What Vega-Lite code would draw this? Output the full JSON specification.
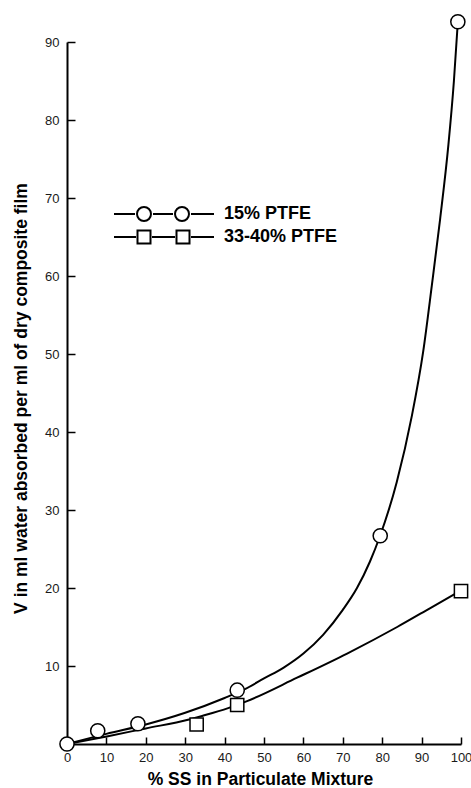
{
  "$schema": "https://vega.github.io/schema/vega-lite/v6.json",
  "width": 394,
  "height": 702,
  "autosize": {"type": "none"},
  "padding": {"left": 67, "top": 42, "right": 10, "bottom": 44},
  "background": "white",
  "config": {
    "view": {"stroke": null},
    "font": "Liberation Sans",
    "axis": {
      "grid": false,
      "domainColor": "black",
      "domainWidth": 2,
      "tickColor": "black",
      "tickWidth": 1.5,
      "labelColor": "#1a1a1a",
      "labelFont": "Liberation Sans",
      "labelFontSize": 13,
      "labelOverlap": false,
      "labelFlush": false,
      "titleFont": "Liberation Sans",
      "titleFontWeight": "bold",
      "titleFontSize": 17.5,
      "titleColor": "black"
    }
  },
  "datasets": {
    "curves": [
      {"series": "15% PTFE", "x": 0, "y": 0},
      {"series": "15% PTFE", "x": 10, "y": 1.3},
      {"series": "15% PTFE", "x": 20, "y": 2.5},
      {"series": "15% PTFE", "x": 30, "y": 4.0},
      {"series": "15% PTFE", "x": 40, "y": 5.9},
      {"series": "15% PTFE", "x": 45, "y": 7.0},
      {"series": "15% PTFE", "x": 50, "y": 8.4},
      {"series": "15% PTFE", "x": 55, "y": 9.8},
      {"series": "15% PTFE", "x": 60, "y": 11.6},
      {"series": "15% PTFE", "x": 65, "y": 14.0},
      {"series": "15% PTFE", "x": 70, "y": 17.2},
      {"series": "15% PTFE", "x": 73.6, "y": 20.0},
      {"series": "15% PTFE", "x": 76.9, "y": 23.4},
      {"series": "15% PTFE", "x": 79.4, "y": 26.6},
      {"series": "15% PTFE", "x": 83.7, "y": 33.6},
      {"series": "15% PTFE", "x": 87.5, "y": 42.0},
      {"series": "15% PTFE", "x": 90.4, "y": 50.3},
      {"series": "15% PTFE", "x": 92.6, "y": 58.8},
      {"series": "15% PTFE", "x": 94.7, "y": 67.3},
      {"series": "15% PTFE", "x": 96.8, "y": 76.8},
      {"series": "15% PTFE", "x": 98.2, "y": 85.0},
      {"series": "15% PTFE", "x": 99.2, "y": 92.6},
      {"series": "33-40% PTFE", "x": 0, "y": 0},
      {"series": "33-40% PTFE", "x": 10.4, "y": 1.0},
      {"series": "33-40% PTFE", "x": 20, "y": 2.0},
      {"series": "33-40% PTFE", "x": 30.7, "y": 3.1},
      {"series": "33-40% PTFE", "x": 34.3, "y": 3.6},
      {"series": "33-40% PTFE", "x": 40.9, "y": 4.6},
      {"series": "33-40% PTFE", "x": 45.7, "y": 5.5},
      {"series": "33-40% PTFE", "x": 58.4, "y": 8.5},
      {"series": "33-40% PTFE", "x": 71.1, "y": 11.6},
      {"series": "33-40% PTFE", "x": 83.8, "y": 15.0},
      {"series": "33-40% PTFE", "x": 92.1, "y": 17.4},
      {"series": "33-40% PTFE", "x": 100, "y": 19.7}
    ],
    "points": [
      {"series": "15% PTFE", "x": 0, "y": 0},
      {"series": "15% PTFE", "x": 7.8, "y": 1.7},
      {"series": "15% PTFE", "x": 18, "y": 2.6},
      {"series": "15% PTFE", "x": 43.2, "y": 6.9},
      {"series": "15% PTFE", "x": 79.5, "y": 26.7},
      {"series": "15% PTFE", "x": 99.2, "y": 92.6},
      {"series": "33-40% PTFE", "x": 32.9, "y": 2.5},
      {"series": "33-40% PTFE", "x": 43.2, "y": 5.0},
      {"series": "33-40% PTFE", "x": 100, "y": 19.6}
    ]
  },
  "layer": [
    {
      "data": {"name": "curves"},
      "mark": {"type": "line", "color": "black", "strokeWidth": 2, "interpolate": "monotone"},
      "encoding": {
        "x": {
          "field": "x", "type": "quantitative",
          "scale": {"domain": [0, 100], "nice": false, "zero": false},
          "axis": {
            "values": [0, 10, 20, 30, 40, 50, 60, 70, 80, 90, 100],
            "tickCount": 20,
            "labelOverlap": false,
            "labelFlush": false,
            "tickSize": -7,
            "labelPadding": 14,
            "title": "% SS in Particulate Mixture",
            "titleX": 193,
            "titleY": 40,
            "titleBaseline": "alphabetic",
            "titleAlign": "center"
          }
        },
        "y": {
          "field": "y", "type": "quantitative",
          "scale": {"domain": [0, 90], "nice": false, "zero": false},
          "axis": {
            "values": [10, 20, 30, 40, 50, 60, 70, 80, 90],
            "tickCount": 20,
            "labelOverlap": false,
            "tickSize": -8,
            "labelPadding": 16,
            "title": "V in ml water absorbed per ml of dry composite film",
            "titleAngle": -90,
            "titleX": -46,
            "titleY": 356,
            "titleAlign": "center",
            "titleBaseline": "middle"
          }
        },
        "detail": {"field": "series"}
      }
    },
    {
      "data": {"name": "points"},
      "transform": [{"filter": "datum.series === '15% PTFE'"}],
      "mark": {"type": "point", "shape": "circle", "filled": true, "fill": "white", "stroke": "black", "strokeWidth": 1.5, "opacity": 1, "size": 200},
      "encoding": {
        "x": {"field": "x", "type": "quantitative"},
        "y": {"field": "y", "type": "quantitative"}
      }
    },
    {
      "data": {"name": "points"},
      "transform": [{"filter": "datum.series === '33-40% PTFE'"}],
      "mark": {"type": "point", "shape": "square", "filled": true, "fill": "white", "stroke": "black", "strokeWidth": 1.5, "opacity": 1, "size": 175},
      "encoding": {
        "x": {"field": "x", "type": "quantitative"},
        "y": {"field": "y", "type": "quantitative"}
      }
    },
    {
      "data": {"name": "points"},
      "transform": [{"filter": "false"}],
      "mark": {"type": "point", "filled": false, "color": "black", "strokeWidth": 2, "opacity": 1},
      "encoding": {
        "x": {"field": "x", "type": "quantitative"},
        "y": {"field": "y", "type": "quantitative"},
        "shape": {
          "field": "series", "type": "nominal",
          "scale": {
            "domain": ["15% PTFE", "33-40% PTFE"],
            "range": [
              "M-5,0H-2.9M-1.1,0H0.9M2.7,0H5M-2.7,0A0.7,0.7 0 1,1 -1.3,0A0.7,0.7 0 1,1 -2.7,0M1.1,0A0.7,0.7 0 1,1 2.5,0A0.7,0.7 0 1,1 1.1,0",
              "M-5,0H-2.8M-1.2,0H1.1M2.7,0H5M-2.65,-0.65H-1.35V0.65H-2.65ZM1.25,-0.65H2.55V0.65H1.25Z"
            ]
          },
          "legend": {
            "title": null,
            "orient": "none",
            "legendX": 86,
            "legendY": 161,
            "padding": 0,
            "symbolSize": 400,
            "labelOffset": 49,
            "rowPadding": 0,
            "labelFont": "Liberation Sans",
            "labelFontWeight": "bold",
            "labelFontSize": 18,
            "labelColor": "black",
            "symbolStrokeWidth": 2,
            "symbolStrokeColor": "black",
            "symbolFillColor": "transparent",
            "symbolOpacity": 1
          }
        }
      }
    },
    {
      "mark": {"type": "rule", "color": "black", "strokeWidth": 1},
      "encoding": {
        "x": {"datum": 100, "type": "quantitative"},
        "y": {"datum": 0, "type": "quantitative"},
        "y2": {"datum": 94}
      }
    }
  ]
}
